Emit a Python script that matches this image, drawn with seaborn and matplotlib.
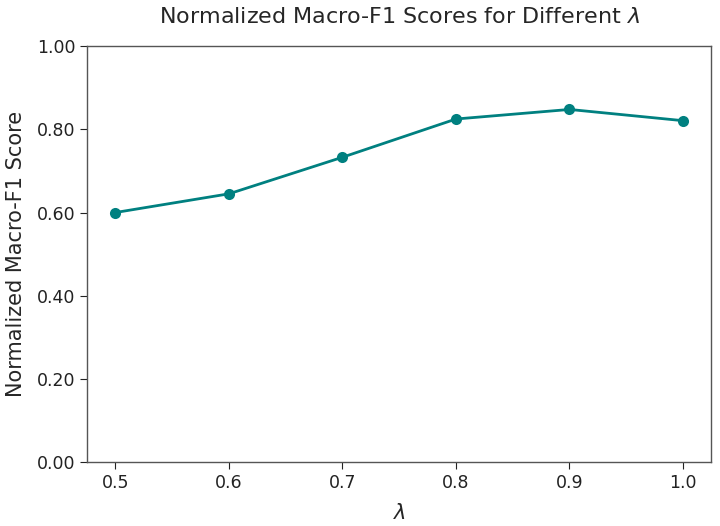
import matplotlib
matplotlib.use("Agg")
import matplotlib.pyplot as plt
import seaborn as sns
import pandas as pd

lambdas = [0.5, 0.6, 0.7, 0.8, 0.9, 1.0]
scores = [0.600, 0.645, 0.733, 0.825, 0.848, 0.821]
xtick_labels = ["0.5", "0.6", "0.7", "0.8", "0.9", "1.0"]

sns.set_style("ticks")
df = pd.DataFrame({"lam": lambdas, "score": scores})

fig, ax = plt.subplots(figsize=(7.2, 5.26), dpi=100)
sns.lineplot(data=df, x="lam", y="score", ax=ax, color="#008080",
             marker="o", markersize=8, markeredgewidth=0, linewidth=2)
ax.set_ylim(0, 1.0)
ax.set_xticks(lambdas)
ax.set_xticklabels(xtick_labels)
ax.set_yticks([0, 0.2, 0.4, 0.6, 0.8, 1.0])
ax.set_yticklabels([f"{v:.2f}" for v in [0, 0.2, 0.4, 0.6, 0.8, 1.0]])
ax.tick_params(labelsize=12.5, colors="#222222", length=5)
for s in ax.spines.values():
    s.set_color("#555555")
    s.set_linewidth(1.0)
ax.set_xlabel(r"$\lambda$", fontsize=15, labelpad=8)
ax.set_ylabel("Normalized Macro-F1 Score", fontsize=15, labelpad=8)
ax.set_title(r"Normalized Macro-F1 Scores for Different $\lambda$", fontsize=16, pad=17)
fig.subplots_adjust(left=0.121, right=0.988, top=0.912, bottom=0.122)
fig.savefig("out.png", dpi=100)
